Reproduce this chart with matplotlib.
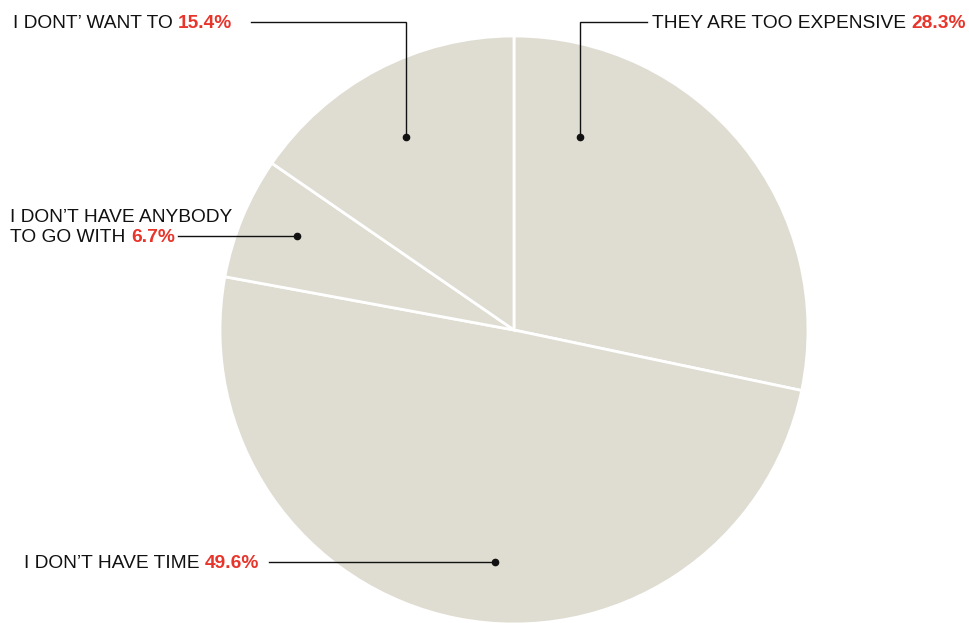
import matplotlib
matplotlib.use("Agg")
import matplotlib.pyplot as plt

# Survey answers, clockwise from 12 o'clock
categories = ["THEY ARE TOO EXPENSIVE", "I DON\u2019T HAVE TIME",
              "I DON\u2019T HAVE ANYBODY\nTO GO WITH", "I DONT\u2019 WANT TO"]
shares = [28.3, 49.6, 6.7, 15.4]

W, H = 970, 623
FILL = "#dfddd2"
RED = "#e8352b"
INK = "#111111"
FONT = "Liberation Sans"
FS = 13.8

fig = plt.figure(figsize=(W / 100, H / 100), dpi=100)
ax = fig.add_axes([0, 0, 1, 1])

def Y(y):
    """Convert a top-down pixel row to axes units."""
    return H - y

ax.pie(shares, startangle=90, counterclock=False, center=(514, Y(330)),
       radius=294, colors=[FILL] * len(shares),
       wedgeprops=dict(edgecolor="white", linewidth=2.0))
ax.set_xlim(0, W)
ax.set_ylim(0, H)
ax.set_aspect("auto")
ax.axis("off")

black = dict(fontsize=FS, family=FONT, color=INK)
red = dict(fontsize=FS, family=FONT, color=RED, fontweight="bold")

def label(x, y, lines, value):
    """Black caption (possibly two lines) followed by a bold red percentage,
    starting at x (left edge)."""
    parts = lines.split("\n")
    for i, part in enumerate(parts):
        t = ax.text(x, Y(y + 20 * (i - len(parts) + 1)), part + " ",
                    ha="left", va="baseline", **black)
    ax.annotate(f"{value:.1f}%", xy=(1, 0), xycoords=t, xytext=(0, 0),
                textcoords="offset points", ha="left", va="bottom", **red)

def label_right(x, y, text, value):
    """Same caption style, but ending at x (right edge)."""
    t = ax.text(x, Y(y), f"{value:.1f}%", ha="right", va="baseline", **red)
    ax.annotate(text + " ", xy=(0, 0), xycoords=t, xytext=(0, 0),
                textcoords="offset points", ha="right", va="bottom", **black)

def leader(points, dot):
    xs = [p[0] for p in points]
    ys = [Y(p[1]) for p in points]
    ax.plot(xs, ys, color=INK, lw=1.0, solid_joinstyle="miter")
    ax.plot([dot[0]], [Y(dot[1])], "o", color=INK, ms=4.5)

# caption anchors (edge, baseline of last line) and leader paths
label_right(966, 28, categories[0], shares[0])
leader([(647, 21.5), (580.5, 21.5), (580.5, 137)], (580.5, 137))

label(24, 568, categories[1], shares[1])
leader([(269, 562), (495, 562)], (495, 562))

label(10, 242, categories[2], shares[2])
leader([(178, 236), (297, 236)], (297, 236))

label(13, 28, categories[3], shares[3])
leader([(251, 21.5), (406.5, 21.5), (406.5, 137)], (406.5, 137))

fig.savefig("out.png", dpi=100, facecolor="white")
